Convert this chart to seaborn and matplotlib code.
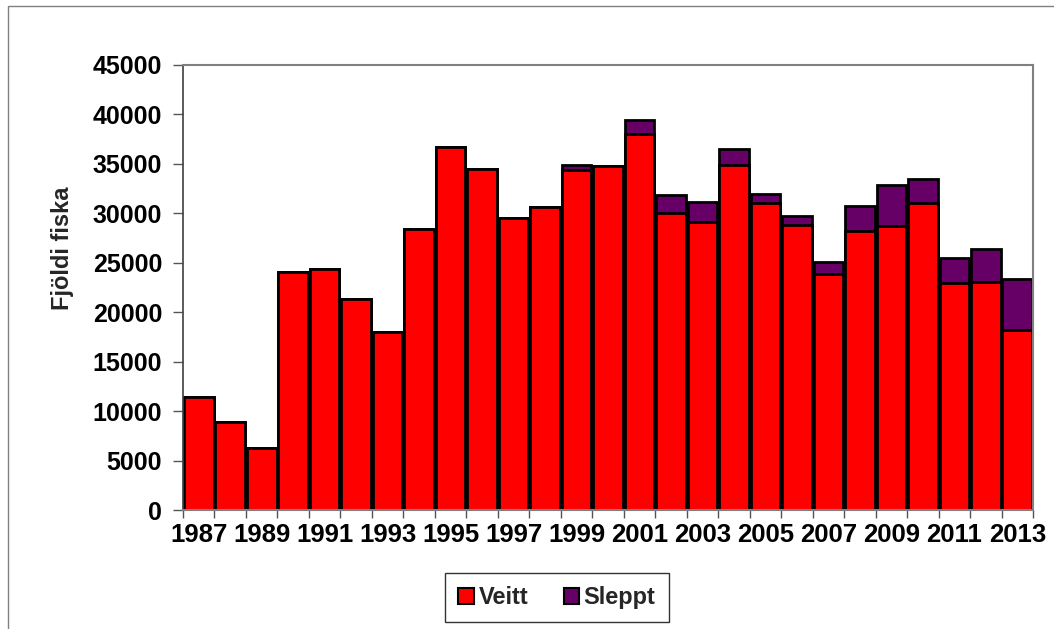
import matplotlib
matplotlib.use("Agg")
import matplotlib.pyplot as plt
import seaborn as sns
import pandas as pd
import numpy as np
from matplotlib.patches import Rectangle, Patch

# ---- data ----
years = list(range(1987, 2014))
veitt = [11400, 8900, 6250, 24100, 24400, 21300, 17950, 28400, 36650, 34450,
         29500, 30600, 34350, 34800, 37950, 30050, 29150, 34900, 31050, 28850,
         23850, 28150, 28700, 31050, 22900, 23000, 18150]
sleppt = [0, 0, 0, 0, 0, 0, 0, 0, 0, 0,
          0, 0, 550, 0, 1480, 1820, 1990, 1550, 880, 880,
          1210, 2530, 4170, 2430, 2560, 3400, 5150]
series_names = ["Veitt", "Sleppt"]
y_ticks = list(range(0, 45001, 5000))
tick_labels = [str(y) if (y - 1987) % 2 == 0 else "" for y in years]

RED = "#ff0000"
PURPLE = "#660066"

sns.set_theme(style="white")
plt.rcParams['font.family'] = ['Liberation Sans', 'DejaVu Sans']
plt.rcParams['font.weight'] = 'bold'

W, H = 1054, 629
fig = plt.figure(figsize=(W / 100, H / 100), dpi=100)
fig.patch.set_facecolor("white")
ax = fig.add_axes([183 / W, 1 - 510 / H, 850 / W, (510 - 64.7) / H])

df = pd.DataFrame({
    "year": [str(y) for y in years],
    "veitt": veitt,
    "total": np.array(veitt) + np.array(sleppt),
})

sns.barplot(data=df, x="year", y="total", color=PURPLE, saturation=1,
            edgecolor="black", linewidth=2.0, width=0.94, ax=ax)
sns.barplot(data=df, x="year", y="veitt", color=RED, saturation=1,
            edgecolor="black", linewidth=2.0, width=0.94, ax=ax)

ax.set_xlim(-0.5, len(years) - 0.5)
ax.set_ylim(0, 45000)
ax.set_yticks(y_ticks)
ax.set_yticklabels([str(v) for v in y_ticks], fontsize=18, fontweight="bold")
ax.set_xticks(range(len(years)))
ax.set_xticklabels(tick_labels, fontsize=18.5, fontweight="bold")
ax.set_xticks(np.arange(-0.5, len(years), 1), minor=True)
ax.set_xlabel("")
ax.set_ylabel("")

ax.tick_params(axis="x", which="major", length=0, pad=9, colors="black")
ax.tick_params(axis="x", which="minor", bottom=True, length=6, width=1,
               direction="out", color="#555555")
ax.tick_params(axis="y", which="major", left=True, length=7, width=1,
               direction="out", color="#555555", pad=8, labelcolor="black")

for side in ["top", "right", "bottom"]:
    ax.spines[side].set_color("#808080")
    ax.spines[side].set_linewidth(1.5)
ax.spines["left"].set_color("#404040")
ax.spines["left"].set_linewidth(1.2)

fig.text(63 / W, 1 - 248 / H, "Fjöldi fiska", rotation=90, fontsize=17,
         fontweight="bold", ha="center", va="center")

handles = [Patch(facecolor=RED, edgecolor="black", linewidth=1.5),
           Patch(facecolor=PURPLE, edgecolor="black", linewidth=1.5)]
leg = fig.legend(handles, series_names, loc="center",
                 bbox_to_anchor=(557 / W, 1 - 597.5 / H), ncol=2,
                 frameon=True, fancybox=False, shadow=False,
                 prop={"size": 17, "weight": "bold"},
                 handlelength=0.65, handleheight=0.65, handletextpad=0.2,
                 columnspacing=1.5, borderpad=0.55)
leg.get_frame().set_edgecolor("black")
leg.get_frame().set_linewidth(1.0)

# outer chart border (top and left visible)
fig.add_artist(Rectangle((8 / W, -0.1), 2, 1.1 - 6 / H, transform=fig.transFigure,
                         fill=False, edgecolor="#808080", linewidth=1.0, clip_on=False))

fig.savefig("out.png", dpi=100)
